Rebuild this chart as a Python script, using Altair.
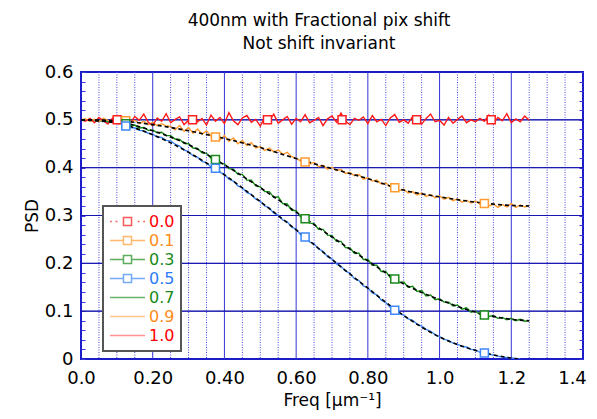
import altair as alt
import pandas as pd

STEP = 0.0125  # sampling step of the measured curves (um^-1)

red_psd = [
    0.500, 0.497, 0.503, 0.494, 0.505, 0.498, 0.491, 0.503, 0.509, 0.496,
    0.502, 0.493, 0.507, 0.499, 0.512, 0.495, 0.488, 0.504, 0.497, 0.513,
    0.494, 0.501, 0.506, 0.490, 0.499, 0.508, 0.496, 0.503, 0.489, 0.510,
    0.497, 0.505, 0.492, 0.515, 0.498, 0.490, 0.504, 0.509, 0.495, 0.501,
    0.487, 0.506, 0.498, 0.512, 0.493, 0.500, 0.507, 0.491, 0.503, 0.496,
    0.511, 0.494, 0.499, 0.505, 0.488, 0.502, 0.508, 0.495, 0.514, 0.497,
    0.490, 0.503, 0.499, 0.506, 0.492, 0.509, 0.496, 0.501, 0.488, 0.504,
    0.511, 0.495, 0.500, 0.493, 0.507, 0.498, 0.491, 0.503, 0.512, 0.496,
    0.499, 0.489, 0.505, 0.493, 0.501, 0.508, 0.494, 0.500, 0.496, 0.503,
    0.497, 0.510, 0.492, 0.505, 0.498, 0.513, 0.494, 0.502, 0.496, 0.508,
    0.499,
]
orange_psd = [
    0.500, 0.502, 0.497, 0.501, 0.496, 0.503, 0.499, 0.495, 0.501, 0.497,
    0.497, 0.494, 0.499, 0.492, 0.497, 0.490, 0.495, 0.488, 0.492, 0.487,
    0.486, 0.479, 0.488, 0.476, 0.484, 0.472, 0.481, 0.470, 0.477, 0.466,
    0.466, 0.458, 0.467, 0.455, 0.462, 0.450, 0.457, 0.446, 0.452, 0.441,
    0.444, 0.436, 0.441, 0.433, 0.437, 0.428, 0.432, 0.423, 0.420, 0.414,
    0.413, 0.407, 0.411, 0.402, 0.405, 0.397, 0.401, 0.394, 0.396, 0.388,
    0.390, 0.383, 0.386, 0.376, 0.379, 0.372, 0.374, 0.366, 0.368, 0.360,
    0.359, 0.352, 0.355, 0.347, 0.350, 0.343, 0.347, 0.340, 0.344, 0.337,
    0.341, 0.334, 0.338, 0.331, 0.335, 0.328, 0.332, 0.326, 0.330, 0.324,
    0.326, 0.320, 0.324, 0.317, 0.323, 0.318, 0.325, 0.317, 0.322, 0.318,
    0.321,
]
green_psd = [
    0.500, 0.501, 0.498, 0.500, 0.497, 0.499, 0.496, 0.498, 0.495, 0.494,
    0.493, 0.488, 0.489, 0.483, 0.484, 0.478, 0.479, 0.473, 0.474, 0.467,
    0.467, 0.460, 0.459, 0.451, 0.450, 0.441, 0.440, 0.431, 0.430, 0.420,
    0.419, 0.409, 0.408, 0.398, 0.397, 0.386, 0.386, 0.374, 0.374, 0.362,
    0.360, 0.350, 0.350, 0.338, 0.339, 0.325, 0.324, 0.311, 0.310, 0.297,
    0.295, 0.284, 0.283, 0.271, 0.271, 0.259, 0.258, 0.246, 0.246, 0.233,
    0.232, 0.221, 0.221, 0.208, 0.208, 0.196, 0.196, 0.183, 0.183, 0.170,
    0.169, 0.160, 0.161, 0.150, 0.152, 0.141, 0.143, 0.132, 0.134, 0.124,
    0.126, 0.119, 0.119, 0.111, 0.113, 0.104, 0.107, 0.098, 0.100, 0.093,
    0.094, 0.089, 0.091, 0.085, 0.087, 0.082, 0.085, 0.080, 0.083, 0.079,
    0.080,
]
blue_psd = [
    0.500, 0.501, 0.499, 0.500, 0.497, 0.498, 0.495, 0.496, 0.493, 0.493,
    0.488, 0.484, 0.483, 0.478, 0.477, 0.472, 0.470, 0.464, 0.463, 0.457,
    0.456, 0.449, 0.445, 0.437, 0.433, 0.425, 0.422, 0.413, 0.410, 0.402,
    0.399, 0.390, 0.386, 0.376, 0.372, 0.362, 0.358, 0.348, 0.344, 0.334,
    0.330, 0.320, 0.316, 0.305, 0.301, 0.291, 0.287, 0.276, 0.271, 0.260,
    0.256, 0.245, 0.241, 0.230, 0.225, 0.214, 0.209, 0.199, 0.194, 0.184,
    0.179, 0.168, 0.164, 0.153, 0.149, 0.138, 0.134, 0.123, 0.118, 0.108,
    0.103, 0.095, 0.092, 0.084, 0.081, 0.073, 0.069, 0.062, 0.058, 0.051,
    0.047, 0.041, 0.039, 0.033, 0.031, 0.026, 0.025, 0.020, 0.019, 0.014,
    0.013, 0.010, 0.008, 0.006, 0.004, 0.003, 0.002, 0.001, 0.000,
]

# theoretical (black dashed) curves
theory_freq = [0.0, 0.1, 0.2, 0.3, 0.4, 0.5, 0.6, 0.7, 0.8, 0.9, 1.0, 1.1, 1.2, 1.25]
theory_orange = [0.500, 0.498, 0.490, 0.477, 0.461, 0.442, 0.419, 0.398, 0.377, 0.353, 0.339, 0.328, 0.321, 0.320]
theory_green = [0.500, 0.496, 0.477, 0.448, 0.406, 0.358, 0.307, 0.255, 0.205, 0.157, 0.124, 0.098, 0.083, 0.080]
theory_blue_freq = [0.0, 0.1, 0.2, 0.3, 0.4, 0.5, 0.6, 0.7, 0.8, 0.9, 1.0, 1.1, 1.2, 1.22]
theory_blue = [0.500, 0.493, 0.469, 0.432, 0.385, 0.329, 0.270, 0.208, 0.148, 0.091, 0.046, 0.018, 0.002, 0.000]

# square markers
marker_series = ["0.0"] * 6 + ["0.1"] * 5 + ["0.3"] * 5 + ["0.5"] * 5
marker_freq = [0.101, 0.311, 0.520, 0.728, 0.936, 1.144,
               0.125, 0.375, 0.625, 0.875, 1.125,
               0.125, 0.375, 0.625, 0.875, 1.125,
               0.125, 0.375, 0.625, 0.875, 1.125]
marker_psd = [0.500, 0.500, 0.500, 0.500, 0.500, 0.500,
              0.498, 0.464, 0.412, 0.358, 0.325,
              0.492, 0.417, 0.293, 0.167, 0.092,
              0.487, 0.399, 0.255, 0.102, 0.0125]
marker_colors = ["#ff2020", "#ff9b30", "#1a8a1a", "#3d87f7"]

# legend entries
legend_labels = ["0.0", "0.1", "0.3", "0.5", "0.7", "0.9", "1.0"]
legend_colors = ["#ff1010", "#ff9b30", "#1a8a1a", "#3d87f7", "#2a8f2a", "#ffb060", "#ff6464"]
SQ = "M-0.23,-0.23H0.23V0.23H-0.23Z"
legend_shapes = [
    "M-1,0H-0.9M-0.68,0H-0.58M0.58,0H0.68M0.9,0H1" + SQ,
    "M-1,0H-0.23M0.23,0H1" + SQ,
    "M-1,0H-0.23M0.23,0H1" + SQ,
    "M-1,0H-0.23M0.23,0H1" + SQ,
    "M-1,0H1",
    "M-1,0H1",
    "M-1,0H1",
]

# axes / grid
x_labels_at = [0.0, 0.2, 0.4, 0.6, 0.8, 1.0, 1.2, 1.4]
x_major_grid = [0.2, 0.4, 0.6, 0.8, 1.0, 1.2]
x_minor_grid = [0.05, 0.1, 0.15, 0.25, 0.3, 0.35, 0.45, 0.5, 0.55, 0.65, 0.7, 0.75,
                0.85, 0.9, 0.95, 1.05, 1.1, 1.15, 1.25, 1.3, 1.35]
y_grid = [0.1, 0.2, 0.3, 0.4, 0.5]
y_ticks = [0.0, 0.02, 0.04, 0.06, 0.08, 0.1, 0.12, 0.14, 0.16, 0.18, 0.2, 0.22, 0.24,
           0.26, 0.28, 0.3, 0.32, 0.34, 0.36, 0.38, 0.4, 0.42, 0.44, 0.46, 0.48, 0.5,
           0.52, 0.54, 0.56, 0.58, 0.6]


def curve(vals, freqs=None):
    if freqs is None:
        freqs = [round(i * STEP, 4) for i in range(len(vals))]
    return pd.DataFrame({"freq": freqs, "psd": vals})


FONT = "DejaVu Sans"
xscale = alt.Scale(domain=[0, 1.4], nice=False, zero=False)
yscale = alt.Scale(domain=[0, 0.6], nice=False, zero=False)

x_axis = alt.Axis(
    values=x_labels_at,
    labelExpr="datum.value == 0 ? '0.0' : (datum.value < 0.9 ? format(datum.value, '.2f') : format(datum.value, '.1f'))",
    labelOffset={"condition": {"test": "datum.value > 1.39", "value": -11}, "value": 0},
    title="Freq [μm⁻¹]", grid=False, domain=False, ticks=False,
    labelFont=FONT, labelFontSize=18, labelColor="black", labelPadding=10,
    labelFlush=False, labelOverlap=False,
    titleFont=FONT, titleFontSize=17, titleFontWeight="normal", titleColor="black",
    titlePadding=5,
)
x_enc = alt.X("freq:Q", scale=xscale, axis=x_axis)
y_plain = alt.Y("psd:Q", scale=yscale, axis=None)

y_left = alt.Y(
    "psd:Q", scale=yscale,
    axis=alt.Axis(
        orient="left", values=y_ticks,
        labelExpr="abs(datum.value * 10 - round(datum.value * 10)) < 0.001 ? (datum.value == 0 ? '0' : format(datum.value, '.1f')) : ''",
        tickSize=4, tickColor="#3a3ad8", tickWidth=1, offset=-4,
        domain=False, grid=False, labelOverlap=False, labelFlush=False,
        labelFont=FONT, labelFontSize=18, labelColor="black", labelPadding=8,
        title="PSD", titleFont=FONT, titleFontSize=17, titleFontWeight="normal",
        titleColor="black", titlePadding=3,
    ),
)
y_right = alt.Y(
    "psd:Q", scale=yscale,
    axis=alt.Axis(
        orient="right", values=y_ticks, labels=False, tickSize=4, tickColor="#3a3ad8",
        tickWidth=1, offset=-4, domain=False, grid=False, title=None,
    ),
)

minor_v = alt.Chart(pd.DataFrame({"freq": x_minor_grid})).mark_rule(
    color="#4848e0", strokeDash=[1, 1.5], strokeWidth=1
).encode(x=x_enc)
major_v = alt.Chart(pd.DataFrame({"freq": x_major_grid})).mark_rule(
    color="#3434d4", strokeWidth=1
).encode(x=x_enc)
hgrid = alt.Chart(pd.DataFrame({"psd": y_grid})).mark_rule(
    color="#1616b0", strokeWidth=1
).encode(y=y_left)
right_ticks = alt.Chart(pd.DataFrame({"psd": y_grid})).mark_rule(
    color="#1616b0", strokeWidth=1
).encode(y=y_right)


def noisy(vals, color, freqs=None, width=1.4):
    return alt.Chart(curve(vals, freqs)).mark_line(
        color=color, strokeWidth=width, clip=True
    ).encode(x=x_enc, y=y_plain)


def dashed(vals, freqs):
    return alt.Chart(curve(vals, freqs)).mark_line(
        color="black", strokeDash=[4, 3], strokeWidth=1.6, clip=True, interpolate="monotone"
    ).encode(x=x_enc, y=y_plain)


markers_df = pd.DataFrame({"freq": marker_freq, "psd": marker_psd, "series": marker_series})
markers = alt.Chart(markers_df).mark_point(
    shape="square", filled=True, fill="white", size=64, strokeWidth=1.5, opacity=1, clip=True
).encode(
    x=x_enc, y=y_plain,
    stroke=alt.Stroke("series:N", scale=alt.Scale(domain=["0.0", "0.1", "0.3", "0.5"], range=marker_colors), legend=None),
)

label_color_expr = (
    "indexof(['0.0','1.0'], datum.label) >= 0 ? '#ff0000' : "
    "(indexof(['0.1','0.9'], datum.label) >= 0 ? '#ff8c1a' : "
    "(datum.label == '0.5' ? '#2e7cf6' : '#1a8a1a'))"
)
leg = alt.Legend(
    title=None, orient="none", legendX=22, legendY=134,
    fillColor="white", strokeColor="#555555", padding=6,
    symbolSize=1225, symbolStrokeWidth=1.5, clipHeight=19, rowPadding=0,
    labelFont=FONT, labelFontSize=16, labelOffset=3,
    labelColor=alt.ExprRef(expr=label_color_expr),
)
legend_layer = alt.Chart(markers_df).transform_filter("false").mark_point(
    filled=True, fill="white", strokeWidth=1.5, clip=True
).encode(
    x=x_enc, y=y_plain,
    stroke=alt.Stroke("series:N", scale=alt.Scale(domain=legend_labels, range=legend_colors), legend=leg),
    shape=alt.Shape("series:N", scale=alt.Scale(domain=legend_labels, range=legend_shapes), legend=leg),
)

chart = alt.layer(
    minor_v, major_v, hgrid, right_ticks,
    noisy(blue_psd, "#3d87f7"),
    noisy(green_psd, "#148c14"),
    noisy(orange_psd, "#ff9b30"),
    noisy(red_psd, "#ff1a1a"),
    dashed(theory_orange, theory_freq),
    dashed(theory_green, theory_freq),
    dashed(theory_blue, theory_blue_freq),
    markers,
    legend_layer,
).resolve_scale(
    stroke="independent", shape="independent"
).resolve_axis(
    y="independent"
).properties(
    width=502, height=287,
    autosize=alt.AutoSizeParams(type="none"),
    padding={"left": 73, "top": 64, "right": 6, "bottom": 52},
    title=alt.TitleParams(
        text=["400nm with Fractional pix shift", "Not shift invariant"],
        font=FONT, fontSize=17, fontWeight="normal", color="black",
        anchor="middle", dx=-13, offset=10, lineHeight=23,
    ),
).configure_view(
    stroke="#1c1cc8", strokeWidth=2
).configure_legend(
    strokeWidth=2
)

chart.save("out.html", embed_options={"renderer": "svg", "actions": False})
